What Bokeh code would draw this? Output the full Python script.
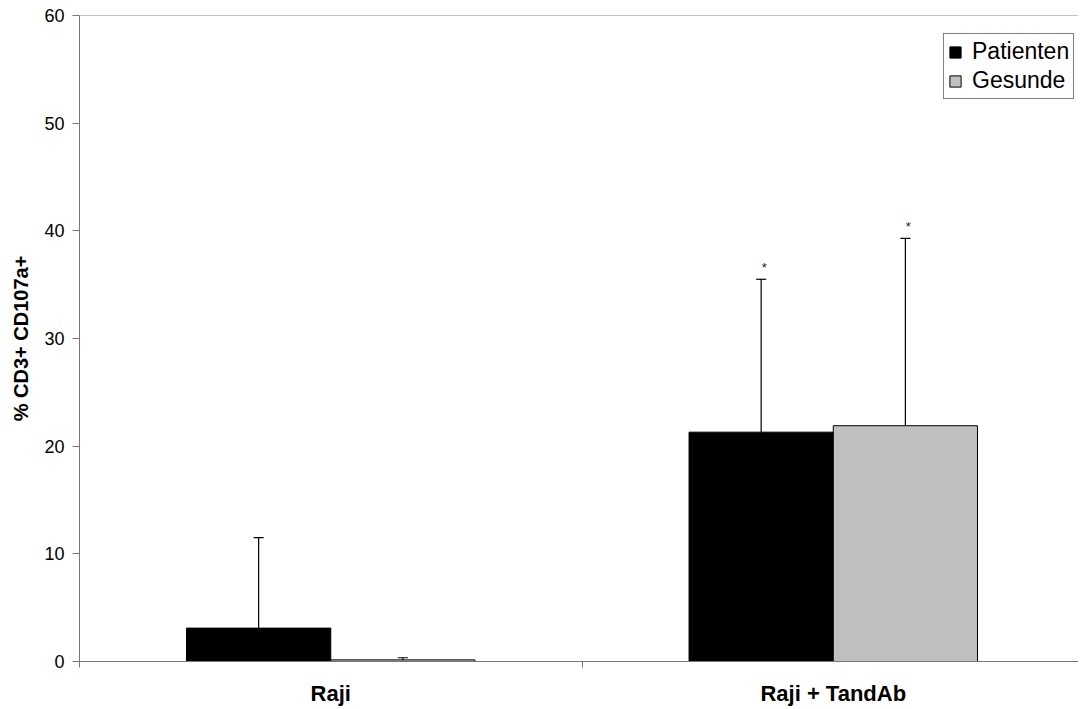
from bokeh.plotting import figure
from bokeh.models import ColumnDataSource, FixedTicker, Whisker, TeeHead, Span, Legend, LegendItem
from bokeh.core.properties import value
from bokeh.embed import file_html
from bokeh.resources import INLINE

categories = ["Raji", "Raji + TandAb"]
series = ["Patienten", "Gesunde"]
patienten = [3.1, 21.3]
patienten_err = [8.4, 14.2]
gesunde = [0.15, 21.9]
gesunde_err = [0.2, 17.4]
sig_patienten = ["", "*"]
sig_gesunde = ["", "*"]
colors = ["#000000", "#C0C0C0"]
y_title = "% CD3+ CD107a+"

FONT = "Liberation Sans"
BW = 0.287
centers = [0.5, 1.5]

p = figure(width=1078, height=708, x_range=(0, 1.988), y_range=(0, 60),
           output_backend="svg", toolbar_location=None,
           min_border_left=79, min_border_right=0, min_border_top=15, min_border_bottom=47)
p.outline_line_color = None
p.grid.visible = False
p.background_fill_color = "white"

renderers = []
for vals, errs, sig, col, off in [(patienten, patienten_err, sig_patienten, colors[0], -BW / 2),
                                  (gesunde, gesunde_err, sig_gesunde, colors[1], BW / 2)]:
    xs = [c + off for c in centers]
    tops = [v + e for v, e in zip(vals, errs)]
    src = ColumnDataSource(dict(x=xs, top=vals, upper=tops, sig=sig))
    r = p.vbar(x="x", top="top", width=BW, bottom=0, source=src,
               fill_color=col, line_color="black", line_width=1)
    renderers.append(r)
    w = Whisker(source=src, base="x", lower="top", upper="upper", dimension="height",
                line_color="black", line_width=1.2,
                upper_head=TeeHead(size=10, line_color="black", line_width=1.2), lower_head=None)
    p.add_layout(w)
    p.text(x="x", y="upper", text="sig", source=src, text_font=value(FONT),
           text_font_size="13px", text_align="center", text_baseline="bottom",
           y_offset=-4, x_offset=3, text_color="#222222")

p.add_layout(Span(location=60, dimension="width", line_color="#888888", line_width=1))

# Y axis
p.yaxis.ticker = FixedTicker(ticks=[0, 10, 20, 30, 40, 50, 60])
p.yaxis.axis_label = y_title
p.yaxis.axis_label_text_font = FONT
p.yaxis.axis_label_text_font_style = "bold"
p.yaxis.axis_label_text_font_size = "20px"
p.yaxis.axis_label_text_color = "black"
p.yaxis.axis_label_standoff = 9
p.yaxis.major_label_text_font = FONT
p.yaxis.major_label_text_font_size = "18px"
p.yaxis.major_label_text_color = "black"
p.yaxis.axis_line_color = "#777777"
p.yaxis.major_tick_line_color = "#777777"
p.yaxis.major_tick_out = 7
p.yaxis.major_tick_in = 0
p.yaxis.minor_tick_line_color = None
p.yaxis.major_label_standoff = 8

# X axis
p.xaxis.ticker = FixedTicker(ticks=centers, minor_ticks=[0, 1, 2])
p.xaxis.major_label_overrides = {0.5: categories[0], 1.5: categories[1]}
p.xaxis.major_label_text_font = FONT
p.xaxis.major_label_text_font_style = "bold"
p.xaxis.major_label_text_font_size = "22px"
p.xaxis.major_label_text_color = "black"
p.xaxis.major_tick_line_color = None
p.xaxis.major_tick_out = 0
p.xaxis.minor_tick_line_color = "#777777"
p.xaxis.minor_tick_out = 6
p.xaxis.minor_tick_in = 0
p.xaxis.axis_line_color = "#777777"
p.xaxis.major_label_standoff = 13

legend = Legend(items=[LegendItem(label=s, renderers=[r]) for s, r in zip(series, renderers)],
                location=(864, 562), label_text_font=FONT, label_text_font_size="23px",
                label_text_color="black",
                glyph_width=14, glyph_height=14, label_standoff=10, spacing=2, padding=4,
                border_line_color="black", border_line_width=1, margin=0,
                label_height=24)
p.add_layout(legend, "center")

open("out.html", "w").write(file_html(p, INLINE))
